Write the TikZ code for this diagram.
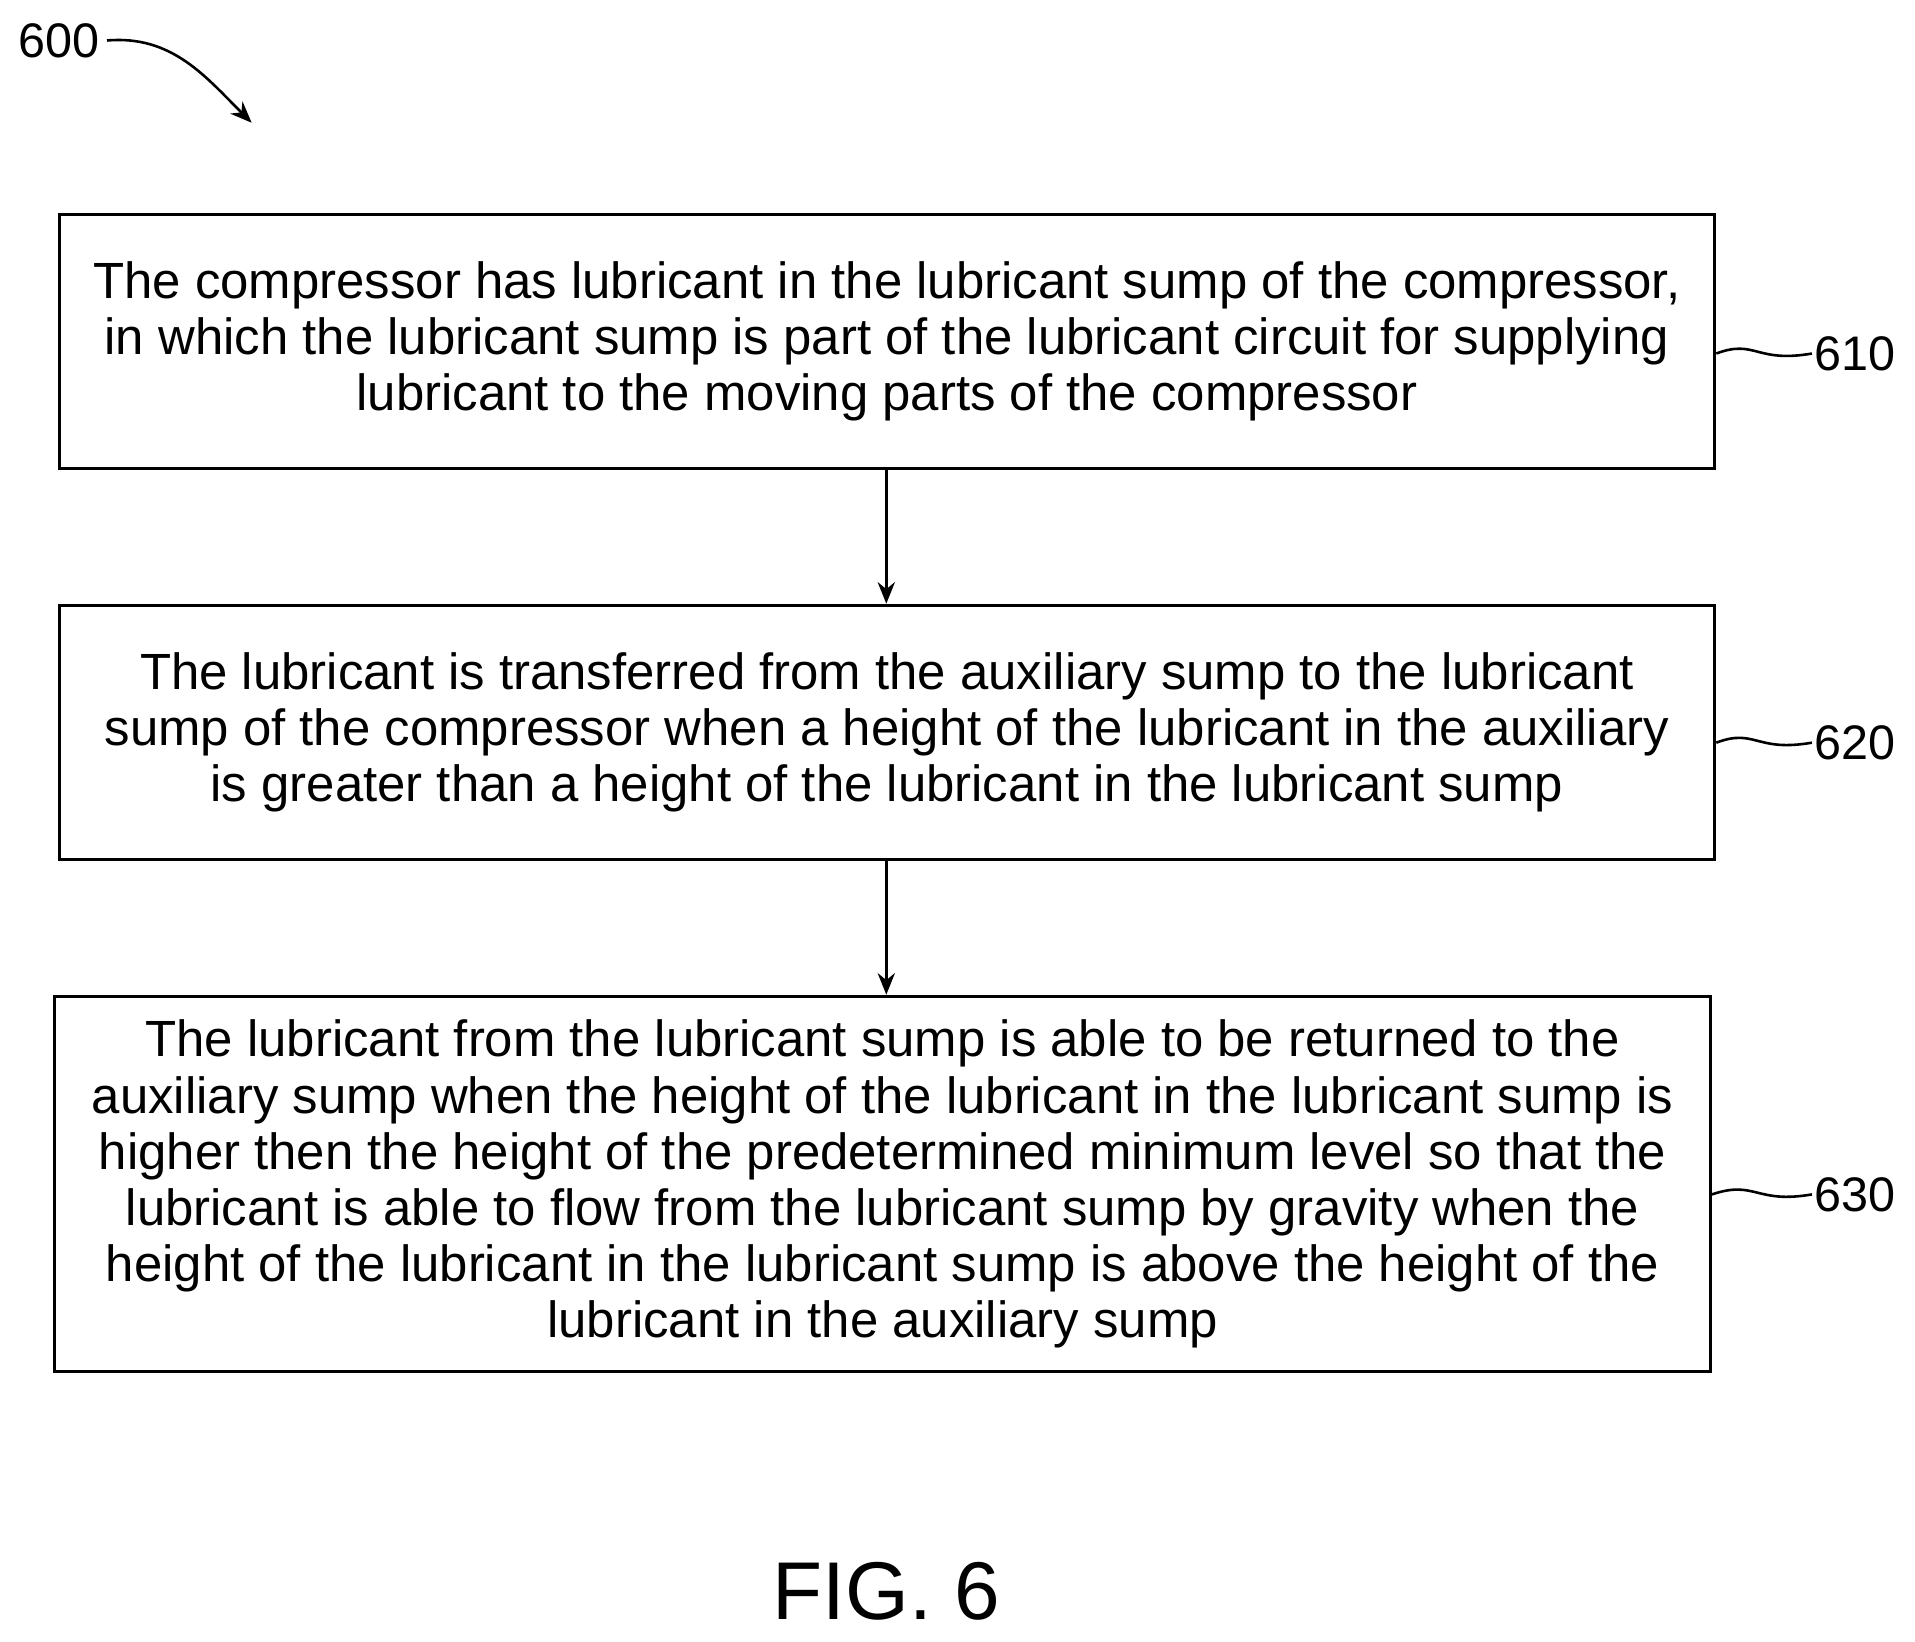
\documentclass[tikz,border=0pt]{standalone}
\usepackage{fontspec}
\setmainfont{Liberation Sans}
\usetikzlibrary{arrows.meta}
\begin{document}
\begin{tikzpicture}[x=0.02cm,y=-0.02cm,
    stepbox/.style={draw,line width=1.4pt,minimum width=26.98cm,minimum height=4.14cm,
      align=center,font=\fontsize{23.6}{26}\selectfont,inner sep=0pt},
    reflabel/.style={font=\fontsize{22.5}{26}\selectfont,anchor=west,inner sep=1pt},
    flow/.style={-{Stealth[length=10pt,width=8pt]},line width=1.2pt}]
    \useasboundingbox (0,0) rectangle (1560,1337);
    % numero de figura
    \node[font=\fontsize{22.5}{26}\selectfont] (n600) at (48,33) {600};
    \coordinate (t600) at (205,100);
    \draw[flow] (n600.east) to[out=5,in=135] (t600);

    % pasos
    \node[stepbox] (s610) at (722.5,278) {The compressor has lubricant in the lubricant sump of the compressor,\\
      in which the lubricant sump is part of the lubricant circuit for supplying\\
      lubricant to the moving parts of the compressor};
    \node[stepbox] (s620) at (722.5,596.5) {The lubricant is transferred from the auxiliary sump to the lubricant\\
      sump of the compressor when a height of the lubricant in the auxiliary\\
      is greater than a height of the lubricant in the lubricant sump};
    \node[stepbox,minimum height=6.12cm] (s630) at (719,964.5) {The lubricant from the lubricant sump is able to be returned to the\\
      auxiliary sump when the height of the lubricant in the lubricant sump is\\
      higher then the height of the predetermined minimum level so that the\\
      lubricant is able to flow from the lubricant sump by gravity when the\\
      height of the lubricant in the lubricant sump is above the height of the\\
      lubricant in the auxiliary sump};

    % flechas
    \draw[flow] (s610.south -| 722,0) -- (s620.north -| 722,0);
    \draw[flow] (s620.south -| 722,0) -- (s630.north -| 722,0);

    % etiquetas
    \foreach \n/\y in {610/288,620/605,630/973}{
      \node[reflabel] (l\n) at (1476,\y) {\n};
      \draw[line width=1.2pt] (s\n.east |- l\n.west) .. controls (1430,\y-12) and (1430,\y+8) .. (l\n.west);
    }

    \node[font=\fontsize{38}{44}\selectfont] (fig) at (722,1296) {FIG. 6};
\end{tikzpicture}
\end{document}
